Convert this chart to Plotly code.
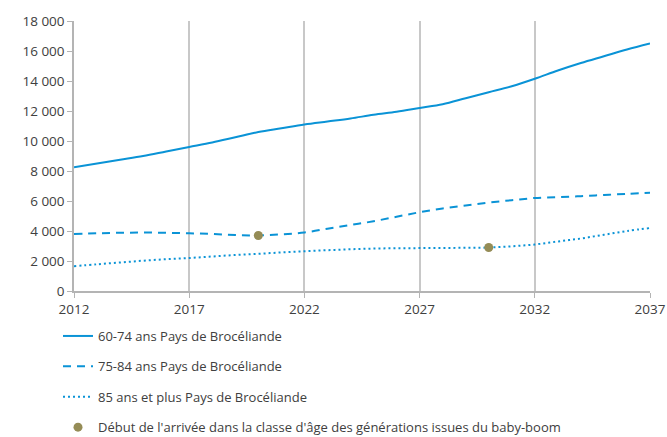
import plotly.graph_objects as go

years = list(range(2012, 2038))
age_60_74 = [8250, 8500, 8750, 9000, 9300, 9600, 9900, 10250, 10600, 10850, 11100, 11300, 11500,
             11750, 11950, 12200, 12450, 12850, 13250, 13650, 14150, 14700, 15200, 15650, 16100, 16500]
age_75_84 = [3800, 3850, 3880, 3900, 3880, 3850, 3800, 3730, 3700, 3780, 3900, 4150, 4400,
             4650, 4950, 5250, 5500, 5700, 5900, 6050, 6200, 6250, 6320, 6400, 6480, 6550]
age_85p = [1650, 1780, 1900, 2020, 2120, 2200, 2300, 2400, 2480, 2570, 2650, 2720, 2780,
           2830, 2850, 2860, 2870, 2880, 2900, 2980, 3100, 3300, 3500, 3750, 4000, 4200]
boom_years = [2020, 2030]
boom_values = [3700, 2900]

names = ["60-74 ans Pays de Brocéliande", "75-84 ans Pays de Brocéliande",
         "85 ans et plus Pays de Brocéliande",
         "Début de l'arrivée dans la classe d'âge des générations issues du baby-boom"]

blue = "#0a93d6"
olive = "#958c56"

fig = go.Figure()
fig.add_trace(go.Scatter(x=years, y=age_60_74, mode="lines", name=names[0], legendgroup="a",
                         line=dict(color=blue, width=2, shape="spline")))
fig.add_trace(go.Scatter(x=years, y=age_75_84, mode="lines", name=names[1], legendgroup="b",
                         line=dict(color=blue, width=2, dash="8px,6px", shape="spline")))
fig.add_trace(go.Scatter(x=years, y=age_85p, mode="lines", name=names[2], legendgroup="c",
                         line=dict(color=blue, width=2, dash="2px,3px", shape="spline")))
fig.add_trace(go.Scatter(x=boom_years, y=boom_values, mode="markers", name=names[3], legendgroup="d",
                         marker=dict(color=olive, size=9)))

fig.update_layout(
    width=667, height=437,
    margin=dict(l=74, r=17, t=21, b=146, autoexpand=False),
    paper_bgcolor="white", plot_bgcolor="white",
    separators=", ",
    font=dict(family="Open Sans", size=13.5, color="#404040"),
    showlegend=True,
    legend=dict(xref="container", yref="container", x=58 / 667, xanchor="left",
                y=1 - 321 / 437, yanchor="top", tracegroupgap=10.5,
                font=dict(size=13, color="#404040"), bgcolor="rgba(0,0,0,0)"),
    xaxis=dict(range=[2012, 2037], tickvals=[2012, 2017, 2022, 2027, 2032, 2037],
               showgrid=True, gridcolor="#c8c8c8", gridwidth=1.5,
               showline=True, linecolor="#b4b4b4", linewidth=1.5,
               ticks="outside", ticklen=5, tickcolor="#b4b4b4", zeroline=False),
    yaxis=dict(range=[0, 18000], dtick=2000, tickformat=",d",
               showgrid=False, showline=True, linecolor="#b4b4b4", linewidth=1.5,
               ticks="outside", ticklen=5, tickcolor="#b4b4b4", zeroline=False),
)

fig.write_html("out.html", config={"displayModeBar": False},
               post_script="document.body.style.margin='0';document.body.style.overflow='hidden';")
